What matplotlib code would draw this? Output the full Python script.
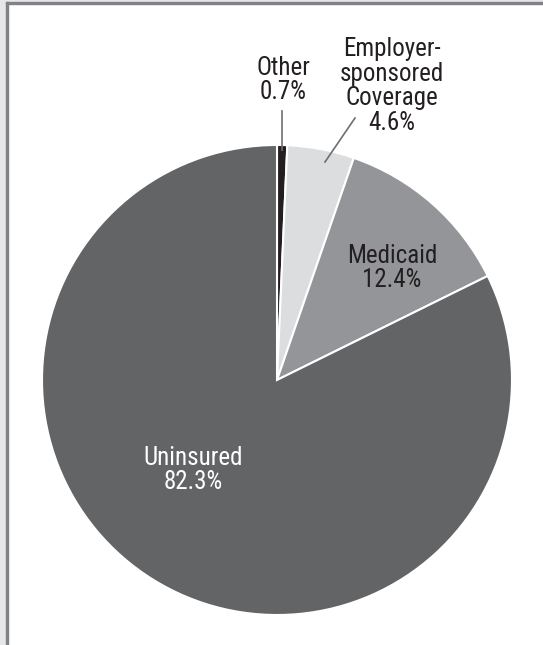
import matplotlib
matplotlib.use("Agg")
import matplotlib.pyplot as plt
from matplotlib.patches import Rectangle
from matplotlib import font_manager

labels = ["Other", "Employer-\nsponsored\nCoverage", "Medicaid", "Uninsured"]
values = [0.7, 4.6, 12.4, 82.3]
colors = ["#231f20", "#dcdddf", "#939598", "#636466"]
pct_text = ["0.7%", "4.6%", "12.4%", "82.3%"]

names = {f.name for f in font_manager.fontManager.ttflist}
fam = [n for n in ['Roboto Condensed', 'Liberation Sans Narrow', 'Roboto'] if n in names] + ['DejaVu Sans']
plt.rcParams['font.family'] = fam

W, H = 543, 645
fig = plt.figure(figsize=(W / 100, H / 100), dpi=100)
ax = fig.add_axes([0, 0, 1, 1])

cx, cy, r = 277, H - 380, 235
ax.pie(values, colors=colors, startangle=90, counterclock=False,
       center=(cx, cy), radius=r, frame=True,
       wedgeprops=dict(edgecolor="white", linewidth=1.5))
ax.set_xlim(0, W)
ax.set_ylim(0, H)
ax.set_aspect('equal')
ax.axis('off')

# frame bits
ax.add_patch(Rectangle((0, 0), 6, H, color="#e6e7e8", zorder=0))
ax.add_patch(Rectangle((0, H - 2), W, 2, color="#e6e7e8", zorder=0))
ax.add_patch(Rectangle((6, 0), 2, H - 2, color="#808285", zorder=1))
ax.add_patch(Rectangle((6, H - 4), W - 6, 2, color="#808285", zorder=1))

fs = 18
ls = 1.02
# Other
ax.text(283, H - 80, labels[0] + "\n" + pct_text[0], ha='center', va='center',
        fontsize=fs, color="#231f20", linespacing=ls)
ax.plot([282, 282], [H - 111, H - 150], color="#6d6e70", lw=1.2)
# Employer
ax.text(392, H - 86, labels[1] + "\n" + pct_text[1], ha='center', va='center',
        fontsize=fs, color="#231f20", linespacing=ls)
ax.plot([355, 325], [H - 118, H - 162], color="#6d6e70", lw=1.2)
# Medicaid
ax.text(392, H - 268, labels[2] + "\n" + pct_text[2], ha='center', va='center',
        fontsize=fs, color="#231f20", linespacing=ls)
# Uninsured
ax.text(193, H - 470, labels[3] + "\n" + pct_text[3], ha='center', va='center',
        fontsize=fs, color="white", linespacing=ls)

fig.savefig("out.png", dpi=100)
